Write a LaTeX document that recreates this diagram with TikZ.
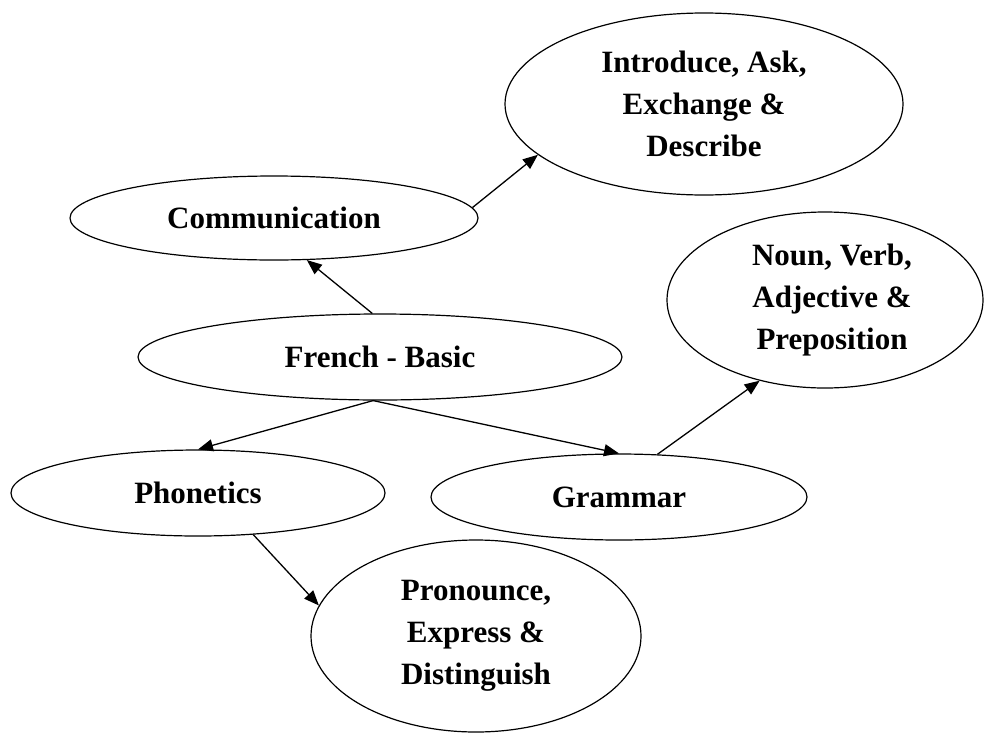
\documentclass[tikz,border=0pt]{standalone}
\usepackage{fontspec}
\setmainfont{Liberation Serif}
\usetikzlibrary{shapes.geometric,arrows.meta}
\newcommand\bubblefont{\bfseries\fontsize{31}{42}\selectfont}
\tikzset{
  bubble/.style={draw, ellipse, line width=1.2pt, inner sep=0pt,
    align=center, font=\bubblefont},
  link/.style={line width=1.3pt, -{Triangle[length=15pt,width=12pt]}},
}
\begin{document}
\begin{tikzpicture}[x=1pt,y=-1pt]
  \useasboundingbox (0,0) rectangle (985,734);
  \fill[white] (0,0) rectangle (985,734);

  % topic bubbles
  \node[bubble, minimum width=398pt, minimum height=182pt] (intro) at (704,104)
    {Introduce, Ask,\\Exchange \&\\Describe};
  \node[bubble, minimum width=408pt, minimum height=84pt] (comm) at (274,218)
    {Communication};
  \node[bubble, minimum width=316pt, minimum height=176pt] (noun) at (825,300)
    {\hspace*{14pt}Noun, Verb,\\\hspace*{14pt}Adjective \&\\\hspace*{14pt}Preposition};
  \node[bubble, minimum width=484pt, minimum height=86pt] (french) at (380,357)
    {French - Basic};
  \node[bubble, minimum width=374pt, minimum height=86pt] (phon) at (198,493)
    {Phonetics};
  \node[bubble, minimum width=376pt, minimum height=86pt] (gram) at (619,497)
    {Grammar};
  \node[bubble, minimum width=330pt, minimum height=192pt] (pron) at (476,636)
    {Pronounce,\\Express \&\\Distinguish};

  % links between topics
  \draw[link] (french.100) -- (comm.-52);
  \draw[link] (comm.3) -- (intro.197);
  \draw[link] (french.261) -- (phon.90);
  \draw[link] (french.261) -- (gram.90);
  \draw[link] (gram.48) -- (noun.231);
  \draw[link] (phon.-37) -- (pron.169);
\end{tikzpicture}
\end{document}
